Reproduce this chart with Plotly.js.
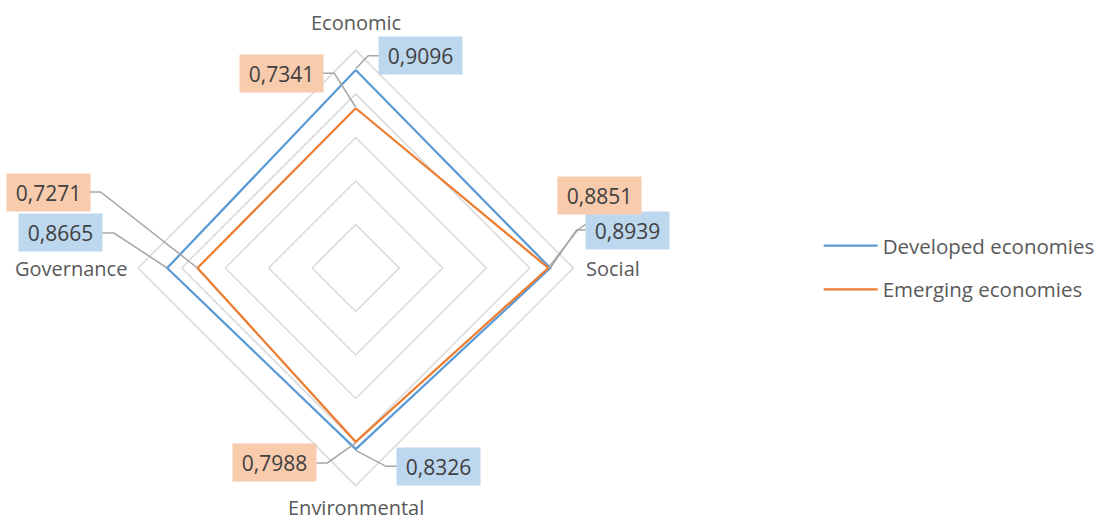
<!DOCTYPE html>
<html><head><meta charset="utf-8">
<script src="https://cdn.plot.ly/plotly-3.0.1.min.js"></script>
<style>html,body{margin:0;padding:0;background:#fff}#chart{width:1100px;height:520px}</style>
</head><body><div id="chart"></div>
<script>
const categories = ['Economic', 'Social', 'Environmental', 'Governance'];
const developed = [0.9096, 0.8939, 0.8326, 0.8665];
const emerging = [0.7341, 0.8851, 0.7988, 0.7271];
const seriesNames = ['Developed economies', 'Emerging economies'];

const W = 1100, H = 520;
const cx = 358, cy = 268, R = 219;
const colors = ['#5b9bd5', '#ed7d31'];
const boxColors = ['#bdd7ee', '#f8cbad'];
const txt = '#595959';
const FONT = 'Open Sans, sans-serif';

// label box offsets (px from data point) and leader attachment style
// [dx, dy, attachSide, elbowDx, elbowDy]
const labelStyle = [
  [ [65, -13, 'l', -11, 0], [78, -38, 'l', -10, 0], [83, 16, 'l', -11, 0], [-107, -35, 'r', 12, 0] ],
  [ [-75, -34, 'r', 12, 0], [52, -73, 'b', -23, 17], [-82, 20, 'r', 12, 0], [-150, -76, 'r', 11, 0] ]
];
const BW = 83, BH = 37;
// category label placement: [distance beyond outer ring, anchor]
const catStyle = [[26, 'center'], [11, 'left'], [20, 'center'], [9, 'right']];

const px = x => x / W;
const py = y => 1 - y / H;

function pointPx(val, i) {
  const th = (90 - 90 * i) * Math.PI / 180;
  return [cx + val * R * Math.cos(th), cy - val * R * Math.sin(th)];
}

const allSeries = [developed, emerging];
const traces = allSeries.map((vals, s) => ({
  type: 'scatterpolar',
  r: vals.concat([vals[0]]),
  theta: categories.concat([categories[0]]),
  mode: 'lines',
  name: seriesNames[s],
  legendgroup: 'g' + s,
  line: {color: colors[s], width: 2.25},
  hoverinfo: 'skip'
}));

const annotations = [];
const shapes = [];
allSeries.forEach((vals, s) => {
  vals.forEach((v, i) => {
    const [x0, y0] = pointPx(v, i);
    const st = labelStyle[s][i];
    const bx = x0 + st[0], by = y0 + st[1];
    let ax, ay;
    if (st[2] === 'l') { ax = bx - BW / 2; ay = by; }
    else if (st[2] === 'r') { ax = bx + BW / 2; ay = by; }
    else { ax = bx; ay = by + BH / 2; }
    const ex = ax + st[3], ey = ay + st[4];
    shapes.push({
      type: 'path', xref: 'paper', yref: 'paper',
      path: `M ${px(x0)},${py(y0)} L ${px(ex)},${py(ey)} L ${px(ax)},${py(ay)}`,
      line: {color: '#a6a6a6', width: 1.5}
    });
    annotations.push({
      xref: 'paper', yref: 'paper', x: px(bx), y: py(by),
      xanchor: 'center', yanchor: 'middle', showarrow: false,
      text: v.toFixed(4).replace('.', ','),
      font: {family: FONT, size: 21, color: '#404040'},
      bgcolor: boxColors[s], width: BW - 8, height: BH - 8, borderpad: 4
    });
  });
});

categories.forEach((c, i) => {
  const [x0, y0] = pointPx(1, i);
  const th = (90 - 90 * i) * Math.PI / 180;
  const d = catStyle[i][0];
  annotations.push({
    xref: 'paper', yref: 'paper',
    x: px(x0 + d * Math.cos(th)), y: py(y0 - d * Math.sin(th)),
    xanchor: catStyle[i][1], yanchor: 'middle', showarrow: false,
    text: c, font: {family: FONT, size: 20, color: txt}
  });
});

const layout = {
  width: W, height: H,
  margin: {l: 0, r: 0, t: 0, b: 0},
  paper_bgcolor: '#fff',
  font: {family: FONT, color: txt, size: 17},
  showlegend: true,
  legend: {
    x: 0.749, y: 0.485, xanchor: 'left', yanchor: 'middle',
    font: {family: FONT, size: 20.5, color: txt},
    tracegroupgap: 14, itemwidth: 54, bgcolor: 'rgba(0,0,0,0)'
  },
  polar: {
    domain: {x: [(cx - R) / W, (cx + R) / W], y: [1 - (cy + R) / H, 1 - (cy - R) / H]},
    gridshape: 'linear',
    bgcolor: 'rgba(0,0,0,0)',
    radialaxis: {
      range: [0, 1], dtick: 0.2, showticklabels: false, ticks: '',
      showline: false, gridcolor: '#d9d9d9', gridwidth: 1.5
    },
    angularaxis: {
      rotation: 90, direction: 'clockwise', showgrid: false,
      linecolor: '#d9d9d9', linewidth: 1.5, ticks: '',
      showticklabels: false
    }
  },
  shapes: shapes,
  annotations: annotations
};

Plotly.newPlot('chart', traces, layout, {displayModeBar: false, staticPlot: true});
</script>
</body></html>
